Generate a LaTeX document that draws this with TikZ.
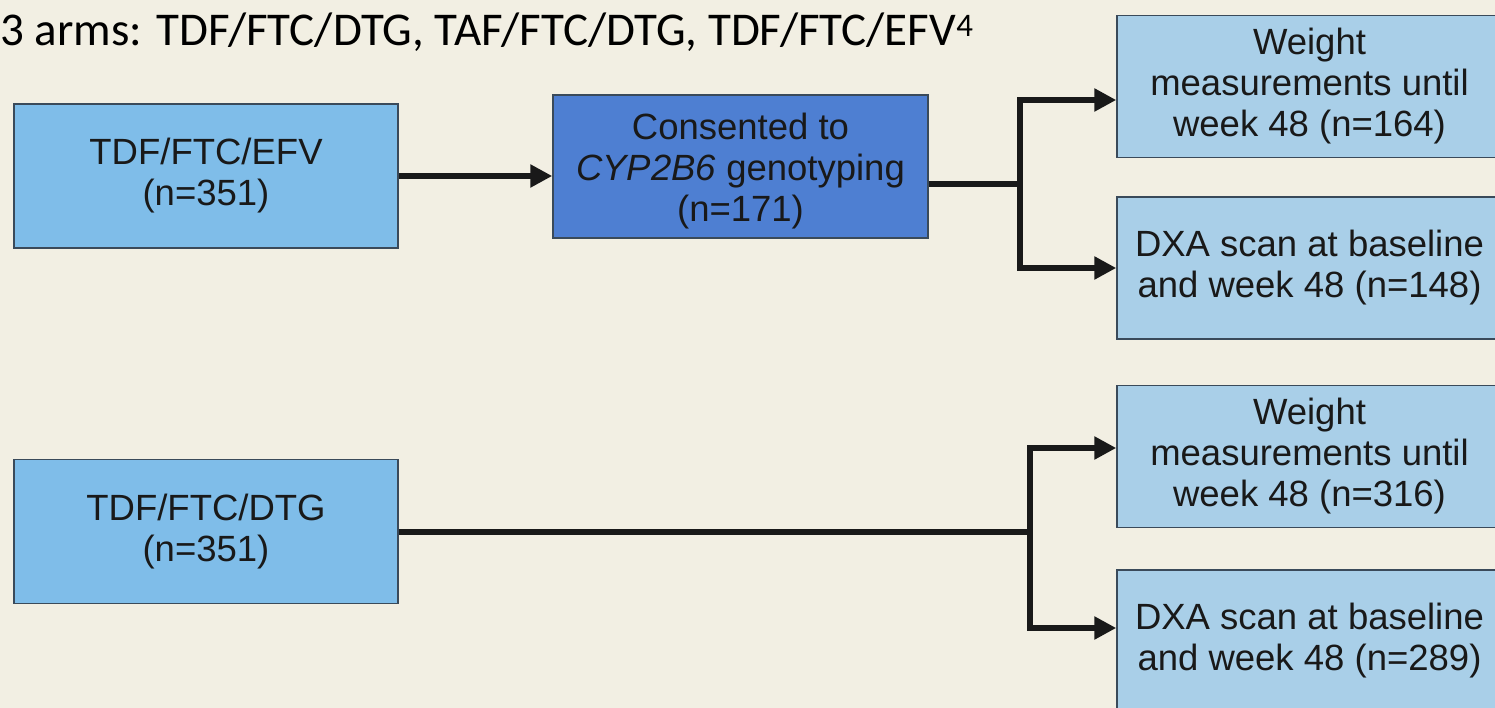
\documentclass[tikz,border=0pt]{standalone}
\usepackage{fontspec}
\setmainfont{Liberation Sans}
\newfontfamily\titlefont{Carlito}
\usetikzlibrary{arrows.meta,calc}
\definecolor{bgc}{HTML}{F2EFE3}
\definecolor{leftfill}{HTML}{7FBDE9}
\definecolor{midfill}{HTML}{4E7FD2}
\definecolor{rightfill}{HTML}{A9CFE8}
\definecolor{edgec}{HTML}{3A4A5A}
\tikzset{
  x=1pt, y=-1pt,
  box/.style={draw=edgec, line width=1.5pt, rectangle, align=center, inner sep=0pt,
    font=\fontsize{36.5}{41}\selectfont, text=black!90},
  leftbox/.style={box, fill=leftfill, minimum width=384pt, minimum height=144pt},
  midbox/.style={box, fill=midfill, minimum width=375pt, minimum height=143pt},
  rightbox/.style={box, fill=rightfill, minimum width=385pt, minimum height=142pt},
  conn/.style={line width=6pt, black!90},
  arr/.style={conn, -{Triangle[length=22pt,width=22pt]}},
}
\begin{document}
\begin{tikzpicture}
\clip (0,0) rectangle (1495,708);
\fill[bgc] (0,0) rectangle (1495,708);
\node[anchor=base west, font=\titlefont\fontsize{47}{50}\selectfont, inner sep=0pt] (title) at (0,46)
  {3 arms: TDF/FTC/DTG, TAF/FTC/DTG, TDF/FTC/EFV\textsuperscript{4}};
\node[leftbox] (A) at (206,176) {TDF/FTC/EFV\\(n=351)};
\node[midbox] (B) at (740.5,166.5) {\rule{0pt}{36pt}Consented to\\\textit{CYP2B6} genotyping\\(n=171)};
\node[rightbox] (C1) at (1309.5,86.5) {Weight\\measurements until\\week 48 (n=164)};
\node[rightbox] (C2) at (1309.5,268) {DXA scan at baseline\\and week 48 (n=148)};
\node[leftbox] (D) at (206,531.5) {TDF/FTC/DTG\\(n=351)};
\node[rightbox] (E1) at (1309.5,456.5) {Weight\\measurements until\\week 48 (n=316)};
\node[rightbox] (E2) at (1309.5,641) {DXA scan at baseline\\and week 48 (n=289)};
\draw[arr] (A.east) -- (A.east -| B.west);
\coordinate (k1) at (1020,184);
\draw[conn] ([yshift=-17.5pt]B.east) -- (k1);
\draw[arr] (k1) |- ([yshift=-13.5pt]C1.west);
\draw[arr] (k1) |- (C2.west);
\coordinate (k2) at (1030,531.5);
\draw[conn] (D.east) -- (k2);
\draw[arr] (k2) |- ([yshift=8.5pt]E1.west);
\draw[arr] (k2) |- ([yshift=13pt]E2.west);
\end{tikzpicture}
\end{document}
